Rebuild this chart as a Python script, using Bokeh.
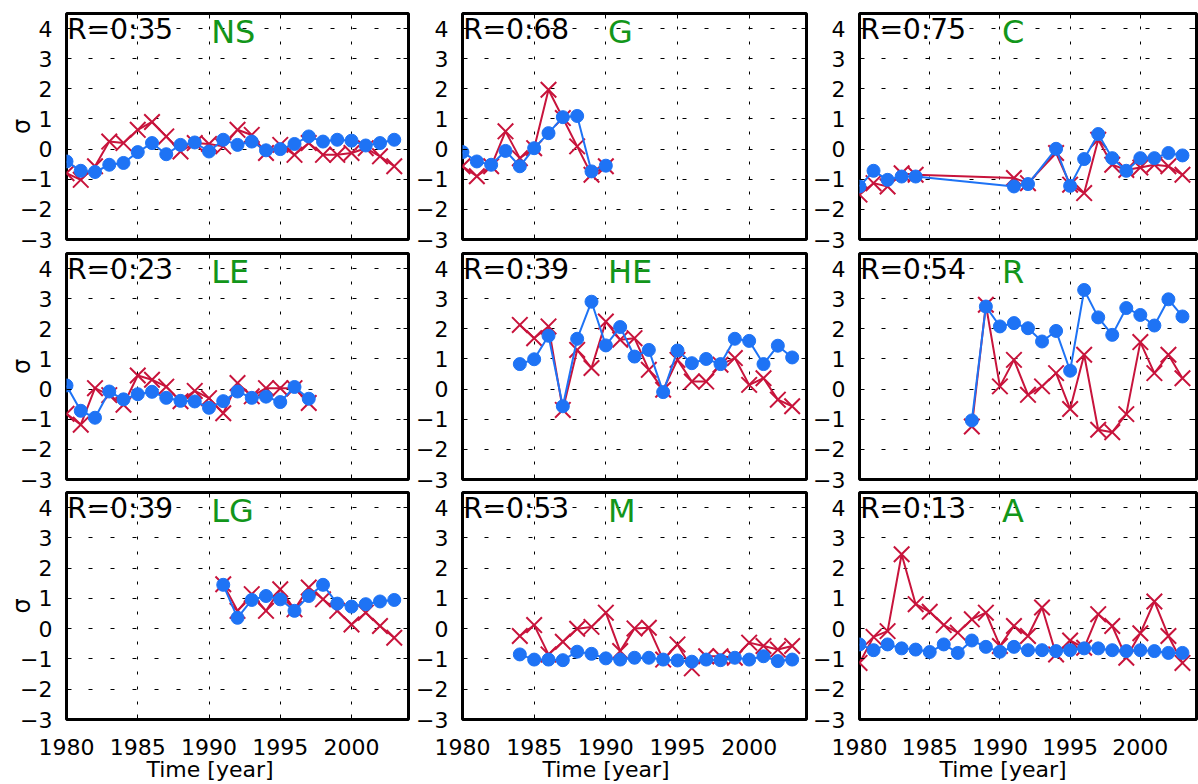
from bokeh.plotting import figure
from bokeh.layouts import gridplot
from bokeh.models import LinearAxis, FixedTicker, Title
from bokeh.core.properties import value
from bokeh.embed import file_html
from bokeh.resources import INLINE

# ---------------- data ----------------
x_ticks = [1980, 1985, 1990, 1995, 2000]
y_ticks = [-3, -2, -1, 0, 1, 2, 3, 4]

names = ["NS", "G", "C", "LE", "HE", "R", "LG", "M", "A"]
r_labels = ["R=0:35", "R=0:68", "R=0:75", "R=0:23", "R=0:39", "R=0:54", "R=0:39", "R=0:53", "R=0:13"]
x_title = "Time [year]"
y_title = "\u03c3"

NS_years = [1980, 1981, 1982, 1983, 1984, 1985, 1986, 1987, 1988, 1989, 1990, 1991,
            1992, 1993, 1994, 1995, 1996, 1997, 1998, 1999, 2000, 2001, 2002, 2003]
NS_red = [-0.80, -1.02, -0.57, 0.25, 0.20, 0.64, 0.90, 0.42, -0.08, 0.20, 0.17, 0.09,
          0.64, 0.47, -0.13, 0.14, -0.19, 0.20, -0.19, -0.19, -0.13, 0.03, -0.24, -0.57]
NS_blue = [-0.41, -0.72, -0.76, -0.52, -0.46, -0.10, 0.20, -0.17, 0.14, 0.22, -0.08, 0.31,
           0.14, 0.25, -0.04, 0.00, 0.17, 0.42, 0.25, 0.31, 0.28, 0.12, 0.20, 0.31]

G_years = [1980, 1981, 1982, 1983, 1984, 1985, 1986, 1987, 1988, 1989, 1990]
G_red = [-0.57, -0.90, -0.57, 0.59, -0.30, 0.03, 1.97, 1.03, 0.09, -0.85, -0.57]
G_blue = [-0.10, -0.41, -0.52, -0.06, -0.57, 0.03, 0.53, 1.06, 1.10, -0.74, -0.55]

C_years = [1980, 1981, 1982, 1983, 1984, 1991, 1992, 1994, 1995, 1996, 1997, 1998,
           1999, 2000, 2001, 2002, 2003]
C_red = [-1.51, -1.13, -1.24, -0.80, -0.85, -0.96, -1.13, -0.13, -1.18, -1.46, 0.31, -0.52,
         -0.69, -0.61, -0.52, -0.57, -0.85]
C_blue = [-1.24, -0.72, -1.02, -0.91, -0.91, -1.24, -1.16, 0.01, -1.22, -0.33, 0.50, -0.30,
          -0.72, -0.30, -0.30, -0.13, -0.21]

LE_years = [1980, 1981, 1982, 1983, 1984, 1985, 1986, 1987, 1988, 1989, 1990, 1991,
            1992, 1993, 1994, 1995, 1996, 1997]
LE_red = [-0.82, -1.18, 0.03, -0.20, -0.52, 0.45, 0.31, 0.08, -0.40, -0.06, -0.30, -0.80,
          0.20, -0.24, 0.03, 0.03, 0.03, -0.46]
LE_blue = [0.12, -0.72, -0.95, -0.08, -0.34, -0.17, -0.09, -0.29, -0.39, -0.41, -0.62, -0.40,
           -0.08, -0.29, -0.25, -0.43, 0.07, -0.32]

HE_years = [1984, 1985, 1986, 1987, 1988, 1989, 1990, 1991, 1992, 1993, 1994, 1995,
            1996, 1997, 1998, 1999, 2000, 2001, 2002, 2003]
HE_red = [2.13, 1.69, 2.08, -0.69, 1.30, 0.70, 2.24, 1.64, 1.69, 0.64, -0.02, 0.97,
          0.25, 0.25, 0.81, 1.03, 0.14, 0.36, -0.35, -0.57]
HE_blue = [0.83, 0.99, 1.77, -0.57, 1.67, 2.90, 1.45, 2.06, 1.08, 1.30, -0.10, 1.28,
           0.86, 1.00, 0.83, 1.67, 1.60, 0.83, 1.44, 1.05]

R_years = [1988, 1989, 1990, 1991, 1992, 1993, 1994, 1995, 1996, 1997, 1998, 1999,
           2000, 2001, 2002, 2003]
R_red = [-1.24, 2.80, 0.09, 0.97, -0.19, 0.09, 0.53, -0.66, 1.14, -1.35, -1.43, -0.83,
         1.56, 0.53, 1.14, 0.36]
R_blue = [-1.04, 2.74, 2.08, 2.19, 2.02, 1.58, 1.93, 0.61, 3.29, 2.38, 1.80, 2.69,
          2.46, 2.11, 2.98, 2.41]

LG_years = [1991, 1992, 1993, 1994, 1995, 1996, 1997, 1998, 1999, 2000, 2001, 2002, 2003]
LG_red = [1.47, 0.59, 1.14, 0.59, 1.30, 0.64, 1.36, 0.97, 0.59, 0.14, 0.53, 0.09, -0.30]
LG_blue = [1.45, 0.36, 0.95, 1.08, 0.97, 0.59, 1.08, 1.45, 0.83, 0.73, 0.81, 0.90, 0.95]

M_years = [1984, 1985, 1986, 1987, 1988, 1989, 1990, 1991, 1992, 1993, 1994, 1995,
           1996, 1997, 1998, 1999, 2000, 2001, 2002, 2003]
M_red = [-0.24, 0.12, -0.85, -0.43, 0.00, 0.06, 0.53, -0.74, 0.01, 0.03, -1.02, -0.52,
         -1.31, -0.91, -0.91, -0.96, -0.46, -0.57, -0.69, -0.57]
M_blue = [-0.85, -1.02, -1.02, -1.04, -0.76, -0.83, -0.98, -1.02, -0.96, -0.96, -1.02, -1.05,
          -1.09, -1.02, -1.04, -0.96, -1.02, -0.91, -1.07, -1.02]

A_years = [1980, 1981, 1982, 1983, 1984, 1985, 1986, 1987, 1988, 1989, 1990, 1991,
           1992, 1993, 1994, 1995, 1996, 1997, 1998, 1999, 2000, 2001, 2002, 2003]
A_red = [-1.13, -0.27, -0.08, 2.46, 0.81, 0.56, 0.12, -0.13, 0.31, 0.53, -0.57, 0.09,
         -0.24, 0.70, -0.85, -0.39, -0.63, 0.48, 0.09, -0.96, -0.15, 0.90, -0.24, -1.13]
A_blue = [-0.52, -0.71, -0.52, -0.65, -0.69, -0.77, -0.52, -0.80, -0.39, -0.60, -0.76, -0.60,
          -0.71, -0.71, -0.74, -0.71, -0.65, -0.65, -0.71, -0.74, -0.71, -0.74, -0.80, -0.80]

panels = [
    (NS_years, NS_red, NS_blue), (G_years, G_red, G_blue), (C_years, C_red, C_blue),
    (LE_years, LE_red, LE_blue), (HE_years, HE_red, HE_blue), (R_years, R_red, R_blue),
    (LG_years, LG_red, LG_blue), (M_years, M_red, M_blue), (A_years, A_red, A_blue),
]

# ---------------- style ----------------
RED = "#c8143c"
BLUE = "#1e73f5"
GREEN = "#12961a"
FONT = "DejaVu Sans"

col_w = [412, 398, 388]
col_left = [66, 50, 48]
col_right = [4, 4, 2]
row_h = [252, 239, 293]
row_top = [13, 1, 1]
row_bottom = [13, 12, 65]

y_over = {v: (("\u2212%d" % (-v)) if v < 0 else str(v)) for v in y_ticks}


def labelled_axis(ax, ticks, standoff):
    ax.ticker = FixedTicker(ticks=ticks)
    ax.major_tick_in = 5
    ax.major_tick_out = 0
    ax.minor_tick_in = 0
    ax.minor_tick_out = 0
    ax.axis_line_color = None
    ax.major_tick_line_color = "black"
    ax.major_tick_line_width = 1
    ax.major_label_text_font = FONT
    ax.major_label_text_color = "black"
    ax.major_label_text_font_size = "22px"
    ax.major_label_standoff = standoff


def bare_axis(ax, ticks):
    # tick marks only (drawn as minor ticks, so no labels are produced)
    ax.ticker = FixedTicker(ticks=[], minor_ticks=ticks)
    ax.major_tick_in = 0
    ax.major_tick_out = 0
    ax.minor_tick_in = 5
    ax.minor_tick_out = 0
    ax.minor_tick_line_color = "black"
    ax.minor_tick_line_width = 1
    ax.axis_line_color = None
    ax.major_label_standoff = 0


figs = []
for i, (yrs, red, blue) in enumerate(panels):
    r, c = divmod(i, 3)
    p = figure(width=col_w[c], height=row_h[r], x_range=(1980, 2004), y_range=(-3, 4.5),
               output_backend="svg", toolbar_location=None,
               min_border_left=col_left[c], min_border_right=col_right[c],
               min_border_top=row_top[r], min_border_bottom=row_bottom[r])
    p.background_fill_color = "white"
    p.border_fill_color = "white"
    p.outline_line_color = "black"
    p.outline_line_width = 3

    if r == 2:
        labelled_axis(p.xaxis[0], x_ticks, 19)
        p.add_layout(Title(text=x_title, align="left", offset=80, standoff=-4,
                           vertical_align="middle", text_font=FONT,
                           text_font_size="22px", text_font_style="normal",
                           text_color="black"), "below")
    else:
        bare_axis(p.xaxis[0], x_ticks)
    labelled_axis(p.yaxis[0], y_ticks, 14)
    p.yaxis[0].major_label_overrides = y_over
    if c == 0:
        p.yaxis[0].axis_label = y_title
        p.yaxis[0].axis_label_text_font = FONT
        p.yaxis[0].axis_label_text_font_size = "24px"
        p.yaxis[0].axis_label_text_font_style = "normal"
        p.yaxis[0].axis_label_text_color = "black"
        p.yaxis[0].axis_label_standoff = -19

    top_ax = LinearAxis()
    bare_axis(top_ax, x_ticks)
    p.add_layout(top_ax, "above")
    right_ax = LinearAxis()
    bare_axis(right_ax, y_ticks)
    p.add_layout(right_ax, "right")

    p.xgrid.ticker = FixedTicker(ticks=x_ticks)
    p.ygrid.ticker = FixedTicker(ticks=y_ticks)
    p.xgrid.grid_line_color = "black"
    p.xgrid.grid_line_dash = "3 12"
    p.xgrid.grid_line_width = 1
    p.ygrid.grid_line_color = "black"
    p.ygrid.grid_line_dash = "4 18"
    p.ygrid.grid_line_width = 1

    p.line(yrs, red, line_color=RED, line_width=2)
    p.scatter(yrs, red, marker="x", size=22, line_color=RED, line_width=2)
    p.line(yrs, blue, line_color=BLUE, line_width=2)
    p.scatter(yrs, blue, marker="circle", size=13, fill_color=BLUE, line_color=BLUE)

    p.text(x=[1980.05], y=[3.96], text=[r_labels[i]], text_font=value(FONT),
           text_font_size="28px", text_color="black", text_align="left",
           text_baseline="middle")
    p.text(x=[1990.15], y=[3.88], text=[names[i]], text_font=value(FONT),
           text_font_size="32px", text_color=GREEN, text_align="left",
           text_baseline="middle")
    figs.append(p)

grid = gridplot([figs[0:3], figs[3:6], figs[6:9]], toolbar_location=None)

open("out.html", "w").write(file_html(grid, INLINE))
